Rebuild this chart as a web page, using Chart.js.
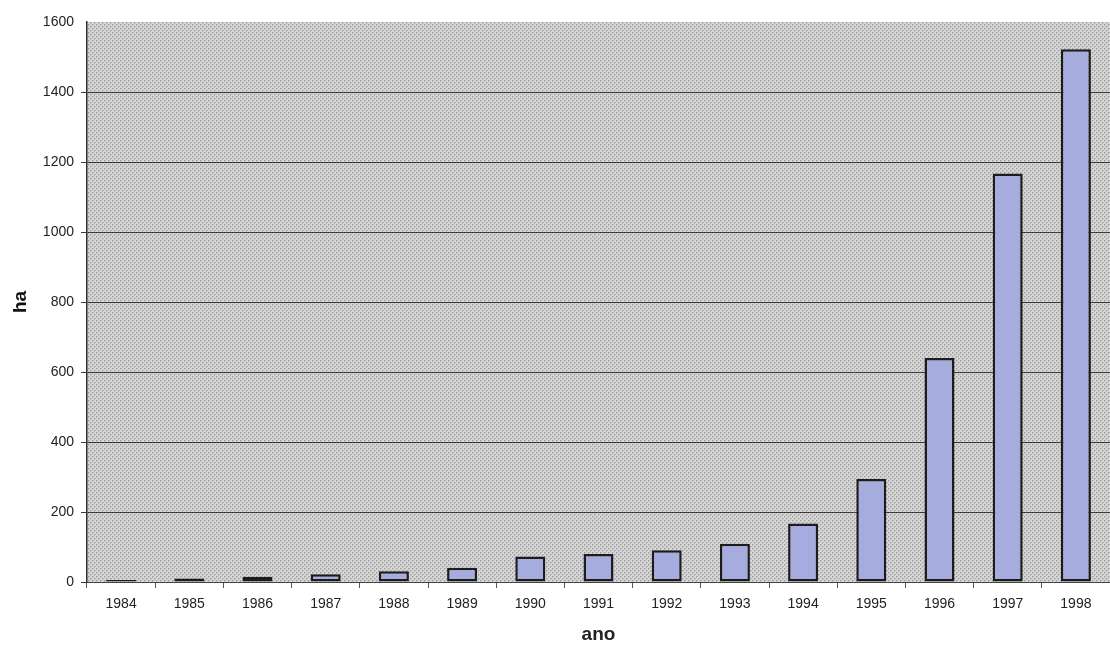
<!DOCTYPE html>
<html>
<head>
<meta charset="utf-8">
<script src="https://cdn.jsdelivr.net/npm/chart.js@4.4.1/dist/chart.umd.min.js"></script>
<style>
  html, body { margin: 0; padding: 0; background: #ffffff; }
  #wrap { width: 1110px; height: 646px; position: relative; }
</style>
</head>
<body>
<div id="wrap"><canvas id="c" width="1110" height="646"></canvas></div>
<script>
const categories = ['1984','1985','1986','1987','1988','1989','1990','1991','1992','1993','1994','1995','1996','1997','1998'];
const areaHa = [6, 10, 15, 22, 31, 41, 73, 80, 91, 109, 167, 294, 640, 1167, 1522];
const yTicks = [0, 200, 400, 600, 800, 1000, 1200, 1400, 1600];
const xTitle = 'ano';
const yTitle = 'ha';

function makePattern(ctx) {
  const p = document.createElement('canvas');
  p.width = 4; p.height = 4;
  const g = p.getContext('2d');
  g.fillStyle = '#d6d6d6';
  g.fillRect(0, 0, 4, 4);
  g.fillStyle = '#a0a0a0';
  g.fillRect(0, 0, 1, 1);
  g.fillRect(2, 2, 1, 1);
  g.fillStyle = '#b9b9b9';
  g.fillRect(1, 0, 1, 1);
  g.fillRect(3, 2, 1, 1);
  g.fillRect(0, 1, 1, 1);
  g.fillRect(2, 3, 1, 1);
  return ctx.createPattern(p, 'repeat');
}

const plotBg = {
  id: 'plotBg',
  beforeDraw(chart) {
    const { ctx, chartArea: a } = chart;
    ctx.save();
    ctx.fillStyle = makePattern(ctx);
    ctx.fillRect(a.left, a.top, a.right - a.left, a.bottom - a.top);
    ctx.restore();
  }
};

const ctx = document.getElementById('c').getContext('2d');
new Chart(ctx, {
  type: 'bar',
  data: {
    labels: categories,
    datasets: [{
      data: areaHa,
      backgroundColor: '#a7acdf',
      borderColor: '#1c1c1c',
      borderWidth: 2.5,
      borderSkipped: false,
      barPercentage: 0.44,
      categoryPercentage: 1.0
    }]
  },
  options: {
    responsive: false,
    animation: false,
    devicePixelRatio: 1,
    layout: { padding: { top: 22, right: 0, left: 0, bottom: 0 } },
    plugins: { legend: { display: false }, tooltip: { enabled: false } },
    scales: {
      x: {
        offset: true,
        afterFit(s) { s.height = 64; },
        grid: { display: true, drawOnChartArea: false, drawTicks: true, tickLength: 6, color: '#555', offset: true },
        border: { display: true, color: '#444', width: 1 },
        ticks: { color: '#222', font: { family: 'Liberation Sans', size: 14 }, padding: 8, maxRotation: 0 },
        title: { display: true, text: xTitle, color: '#222', font: { family: 'Liberation Sans', size: 19, weight: 'bold' }, padding: { top: 4, bottom: 0 } }
      },
      y: {
        min: 0, max: 1600,
        afterFit(s) { s.width = 87; },
        afterBuildTicks(s) { s.ticks = yTicks.map(v => ({ value: v })); },
        grid: {
          color: (c) => (c.tick && c.tick.value === 1600) ? 'rgba(0,0,0,0)' : '#3a3a3a',
          lineWidth: 1, tickLength: 6, drawTicks: true
        },
        border: { display: true, color: '#333', width: 1.5 },
        ticks: { color: '#222', font: { family: 'Liberation Sans', size: 14 }, padding: 7, callback: (v) => String(v) },
        title: { display: true, text: yTitle, color: '#111', font: { family: 'Liberation Sans', size: 19, weight: 'bold' }, padding: { top: 9, bottom: 0 } }
      }
    }
  },
  plugins: [plotBg]
});
</script>
</body>
</html>
